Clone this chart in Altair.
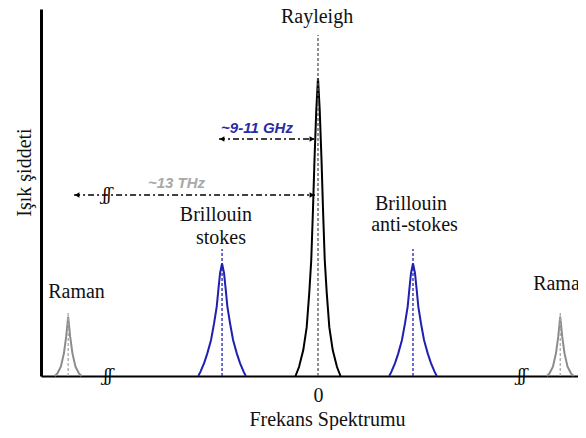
import altair as alt
import pandas as pd

# ---- values (relative frequency units: Rayleigh = 0, Brillouin = +-1,
#      Raman beyond the axis breaks; intensity relative to the Rayleigh peak) ----
PEAK_NAMES = ["Raman stokes", "Brillouin stokes", "Rayleigh", "Brillouin anti-stokes", "Raman anti-stokes"]
PEAK_CENTERS = [-2.63, -1.01, 0.0, 1.0, 2.55]
PEAK_PROFILE = ["raman", "brillouin", "rayleigh", "brillouin", "raman"]
PEAK_COLORS = ["#8c8c8c", "#1f1fb0", "#000000", "#1f1fb0", "#8c8c8c"]
MARKER_TOP = [0.211, 0.426, 1.144, 0.426, 0.211]
MARKER_COLORS = ["#a8a8a8", "#1f1fb0", "#555555", "#1f1fb0", "#a8a8a8"]

# half-profiles: offset from centre / height
RAYLEIGH_OFF = [0, 0.018, 0.037, 0.053, 0.071, 0.092, 0.119, 0.155, 0.2, 0.237]
RAYLEIGH_H = [1.0, 0.893, 0.725, 0.557, 0.389, 0.279, 0.164, 0.087, 0.03, 0.0]
BRILLOUIN_OFF = [0, 0.021, 0.039, 0.056, 0.084, 0.116, 0.155, 0.189, 0.228, 0.25]
BRILLOUIN_H = [0.378, 0.345, 0.289, 0.233, 0.177, 0.121, 0.076, 0.043, 0.014, 0.0]
RAMAN_OFF = [0, 0.021, 0.045, 0.077, 0.113, 0.14]
RAMAN_H = [0.199, 0.132, 0.076, 0.031, 0.009, 0.0]

# arrows (~9-11 GHz and ~13 THz)
ARROW_Y = [0.795, 0.607]
ARROW_FROM = [-1.042, -2.568]
ARROW_TO = [-0.032, -0.032]
ARROW_TEXT = ["~9-11 GHz", "~13 THz"]
ARROW_TEXT_X = [-0.642, -1.489]
ARROW_TEXT_Y = [0.815, 0.631]
ARROW_TEXT_COLOR = ["#2b2ba6", "#a8a8a8"]

# axis breaks
BREAK_X = [-2.21, 2.147, -2.22]
BREAK_Y = [0.0, 0.0, 0.607]

# peak labels
LABELS = ["Rayleigh", "Brillouin", "stokes", "Brillouin", "anti-stokes", "Raman", "Raman"]
LABEL_X = [-0.01, -1.074, -1.021, 0.979, 1.016, -2.542, 2.563]
LABEL_Y = [1.183, 0.520, 0.443, 0.557, 0.487, 0.262, 0.289]

X_DOMAIN = [-2.916, 2.737]
Y_DOMAIN = [0.0, 1.2315]

profiles = {
    "rayleigh": (RAYLEIGH_OFF, RAYLEIGH_H),
    "brillouin": (BRILLOUIN_OFF, BRILLOUIN_H),
    "raman": (RAMAN_OFF, RAMAN_H),
}

rows = []
for name, c, prof, col in zip(PEAK_NAMES, PEAK_CENTERS, PEAK_PROFILE, PEAK_COLORS):
    off, h = profiles[prof]
    pts = [(-o, hh) for o, hh in zip(off[::-1], h[::-1])] + [(o, hh) for o, hh in zip(off[1:], h[1:])]
    for i, (o, hh) in enumerate(pts):
        rows.append({"peak": name, "x": c + o, "y": hh, "order": i, "color": col})
peaks = pd.DataFrame(rows)

markers = pd.DataFrame({"x": PEAK_CENTERS, "y": [0.0] * 5, "y2": MARKER_TOP, "color": MARKER_COLORS})
arrows = pd.DataFrame({"x": ARROW_FROM, "x2": ARROW_TO, "y": ARROW_Y})
heads_left = pd.DataFrame({"x": ARROW_FROM, "y": ARROW_Y})
heads_right = pd.DataFrame({"x": ARROW_TO, "y": ARROW_Y})
arrow_text = pd.DataFrame({"x": ARROW_TEXT_X, "y": ARROW_TEXT_Y, "t": ARROW_TEXT, "color": ARROW_TEXT_COLOR})
breaks = pd.DataFrame({"x": BREAK_X, "y": BREAK_Y})
labels = pd.DataFrame({"x": LABEL_X, "y": LABEL_Y, "t": LABELS})

SERIF = "Liberation Serif"

x_axis = alt.Axis(
    values=[0], format="d", ticks=False, tickSize=0, grid=False,
    domainColor="black", domainWidth=2,
    labelFont=SERIF, labelFontSize=20, labelColor="#111111",
    labelPadding=25, labelBaseline="alphabetic",
    title="Frekans Spektrumu", titleFont=SERIF, titleFontSize=20, titleFontWeight="normal",
    titleColor="#111111", titleX=286, titleY=49, titleBaseline="alphabetic", titleAlign="center",
)
y_axis = alt.Axis(
    labels=False, ticks=False, tickSize=0, grid=False,
    domainColor="black", domainWidth=3,
    title="Işık şiddeti", titleFont=SERIF, titleFontSize=20, titleFontWeight="normal",
    titleColor="#111111", titleAngle=270, titleX=-11, titleY=163,
    titleBaseline="alphabetic", titleAlign="center",
)

X = alt.X("x:Q", scale=alt.Scale(domain=X_DOMAIN, nice=False, zero=False), axis=x_axis)
Y = alt.Y("y:Q", scale=alt.Scale(domain=Y_DOMAIN, nice=False, zero=False), axis=y_axis)

peak_layer = alt.Chart(peaks).mark_line(strokeWidth=2, interpolate="linear").encode(
    x=X, y=Y, detail="peak:N", order="order:Q", color=alt.Color("color:N", scale=None)
)
marker_layer = alt.Chart(markers).mark_rule(strokeWidth=1.3, strokeDash=[3, 2]).encode(
    x=X, y=Y, y2="y2:Q", color=alt.Color("color:N", scale=None)
)
arrow_layer = alt.Chart(arrows).mark_rule(strokeWidth=1.5, strokeDash=[6, 3, 2, 3], color="black").encode(
    x=X, x2="x2:Q", y=Y
)
head_l = alt.Chart(heads_left).mark_point(shape="triangle-left", filled=True, size=30, color="black",
                                          opacity=1, xOffset=3).encode(x=X, y=Y)
head_r = alt.Chart(heads_right).mark_point(shape="triangle-right", filled=True, size=30, color="black",
                                           opacity=1, xOffset=-3).encode(x=X, y=Y)
arrow_text_layer = alt.Chart(arrow_text).mark_text(
    font="Liberation Sans", fontSize=15, fontWeight="bold", fontStyle="italic",
    align="center", baseline="alphabetic"
).encode(x=X, y=Y, text="t:N", color=alt.Color("color:N", scale=None))
break_layer = alt.Chart(breaks).mark_text(
    text="ʃʃ", font="DejaVu Serif", fontSize=16, fontStyle="italic", color="black",
    align="center", baseline="middle"
).encode(x=X, y=Y)
label_layer = alt.Chart(labels).mark_text(
    font=SERIF, fontSize=20, color="#111111", align="center", baseline="alphabetic"
).encode(x=X, y=Y, text="t:N")

chart = alt.layer(
    peak_layer, marker_layer, arrow_layer, head_l, head_r, arrow_text_layer, break_layer, label_layer
).properties(
    width=537, height=367,
    padding={"left": 33, "top": 1, "right": 0, "bottom": 54},
    autosize=alt.AutoSizeParams(type="none"),
    background="white",
).configure_view(stroke=None)

chart.save("out.html", embed_options={"renderer": "svg", "actions": False})
